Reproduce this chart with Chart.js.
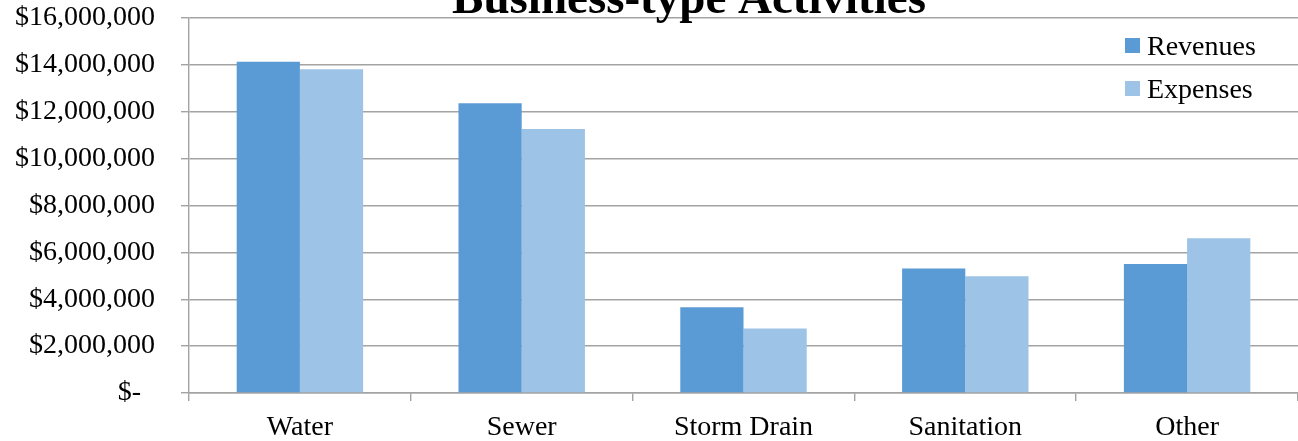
<!DOCTYPE html>
<html>
<head>
<meta charset="utf-8">
<script src="https://cdn.jsdelivr.net/npm/chart.js@4/dist/chart.umd.min.js"></script>
<style>
  html, body { margin: 0; padding: 0; background: #fff; overflow: hidden; }
  #chart { width: 1298px; height: 441px; }
</style>
</head>
<body>
<div id="chart"><canvas id="c" width="1298" height="441"></canvas></div>
<script>
const chartTitle = 'Business-type Activities';
const categories = ['Water', 'Sewer', 'Storm Drain', 'Sanitation', 'Other'];
const revenues = [14130000, 12360000, 3660000, 5310000, 5500000];
const expenses = [13810000, 11260000, 2750000, 4980000, 6600000];
const seriesLabels = ['Revenues', 'Expenses'];
const seriesColors = ['#5B9BD5', '#9DC3E6'];

const serif = '"Liberation Serif", "Times New Roman", serif';
const gridColor = '#a3a3a3';

// title sits half off the top of the picture, legend sits inside the plot
const overlayPlugin = {
  id: 'overlay',
  afterDraw(chart) {
    const ctx = chart.ctx;
    ctx.save();
    ctx.fillStyle = '#000';
    ctx.font = 'bold 47px ' + serif;
    ctx.textAlign = 'center';
    ctx.textBaseline = 'alphabetic';
    ctx.fillText(chartTitle, 689, 13);

    ctx.font = '28px ' + serif;
    ctx.textAlign = 'left';
    chart.data.datasets.forEach((ds, i) => {
      const y = 38 + i * 43;
      ctx.fillStyle = ds.backgroundColor;
      ctx.fillRect(1125, y, 15, 15);
      ctx.fillStyle = '#000';
      ctx.fillText(ds.label, 1147, y + 17);
    });
    ctx.restore();
  }
};

const config = {
  type: 'bar',
  data: {
    labels: categories,
    datasets: [
      { label: seriesLabels[0], data: revenues, backgroundColor: seriesColors[0] },
      { label: seriesLabels[1], data: expenses, backgroundColor: seriesColors[1] }
    ]
  },
  options: {
    responsive: false,
    animation: false,
    devicePixelRatio: 1,
    categoryPercentage: 0.57,
    barPercentage: 1.0,
    layout: { padding: { top: 18, right: 0, left: 0, bottom: 0 } },
    scales: {
      x: {
        grid: {
          drawOnChartArea: false,
          drawTicks: true,
          tickLength: 8,
          color: gridColor,
          lineWidth: 1.4
        },
        border: { color: gridColor, width: 1.4 },
        ticks: {
          color: '#000',
          font: { family: serif, size: 28 },
          padding: 10,
          maxRotation: 0
        },
        afterFit(scale) { scale.height = 48; }
      },
      y: {
        min: 0,
        max: 16000000,
        grid: {
          color: gridColor,
          lineWidth: 1.4,
          tickLength: 8
        },
        border: { color: gridColor, width: 1.4 },
        ticks: {
          stepSize: 2000000,
          color: '#000',
          font: { family: serif, size: 28 },
          padding: 26,
          callback: v => v === 0 ? '$-  ' : '$' + v.toLocaleString('en-US')
        },
        afterFit(scale) {
          scale.width = 189;
          scale.paddingTop = 0;
          scale.paddingBottom = 0;
        }
      }
    },
    plugins: {
      legend: { display: false },
      title: { display: false },
      tooltip: { enabled: false }
    }
  },
  plugins: [overlayPlugin]
};

new Chart(document.getElementById('c'), config);
</script>
</body>
</html>
